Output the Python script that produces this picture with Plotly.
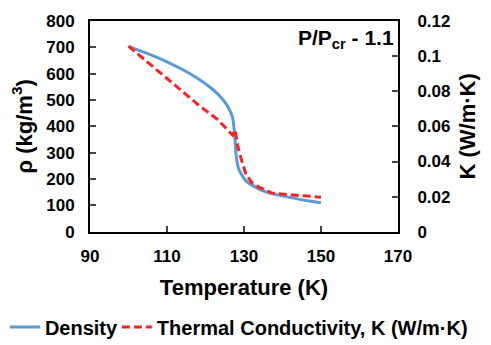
import plotly.graph_objects as go

temp_density = [100, 105, 110, 114.5, 118.4, 121.9, 124.5, 126.0, 127.0, 127.5, 127.9, 128.4, 128.8, 130.5, 132.2, 134.8, 138, 141.8, 146, 150]
density = [704, 676, 645, 612, 578, 540, 502, 470, 435, 380, 300, 250, 232, 193, 176, 156, 142, 131, 119, 110]

temp_k = [100, 105, 110, 114.5, 118.4, 123.1, 127.0, 127.7, 128.3, 129.2, 130.5, 132, 134, 137.4, 143.5, 150]
cond_k = [0.1057, 0.0965, 0.0875, 0.0790, 0.0718, 0.0640, 0.0551, 0.0579, 0.0495, 0.0420, 0.0328, 0.0280, 0.0253, 0.0219, 0.0207, 0.0197]

x_ticks = [90, 110, 130, 150, 170]
y_ticks = [0, 100, 200, 300, 400, 500, 600, 700, 800]
y2_ticks = [0, 0.02, 0.04, 0.06, 0.08, 0.1, 0.12]
y2_labels = ["0", "0.02", "0.04", "0.06", "0.08", "0.1", "0.12"]

FONT = "Liberation Sans, Arial, sans-serif"
tickfont = dict(family=FONT, size=17, color="black", weight="bold")
legfont = dict(family=FONT, size=20, color="black", weight="bold")

fig = go.Figure()
fig.add_trace(go.Scatter(x=temp_density, y=density, mode="lines", name="Density",
                         legend="legend",
                         line=dict(color="#5B9BD5", width=3, shape="spline", smoothing=0.6)))
fig.add_trace(go.Scatter(x=temp_k, y=cond_k, mode="lines", name="Thermal Conductivity, K (W/m·K)",
                         yaxis="y2", legend="legend2",
                         line=dict(color="#FF2020", width=3, dash="8px,4px")))

fig.update_layout(
    width=491, height=345,
    margin=dict(l=90, r=93, t=17, b=113),
    paper_bgcolor="white", plot_bgcolor="white",
    font=dict(family=FONT, size=17, color="black", weight="bold"),
    showlegend=True,
    legend=dict(orientation="h", xref="container", yref="container",
                x=0.01, xanchor="left", y=0.052, yanchor="middle",
                font=legfont, itemwidth=30, bgcolor="rgba(0,0,0,0)"),
    legend2=dict(orientation="h", xref="container", yref="container",
                 x=0.238, xanchor="left", y=0.052, yanchor="middle",
                 font=legfont, itemwidth=30, bgcolor="rgba(0,0,0,0)"),
    xaxis=dict(range=[90, 170], tickvals=x_ticks, ticks="inside", ticklen=6, tickwidth=2,
               showline=True, linewidth=2, linecolor="black", mirror=True, automargin=True,
               showgrid=False, zeroline=False, tickfont=tickfont, ticklabelstandoff=8,
               title=dict(text="Temperature (K)", font=dict(family=FONT, size=22, weight="bold"), standoff=14)),
    yaxis=dict(range=[0, 800], tickvals=y_ticks, ticks="inside", ticklen=6, tickwidth=2,
               showline=True, linewidth=2, linecolor="black", automargin=True,
               showgrid=False, zeroline=False, tickfont=tickfont, ticklabelstandoff=10,
               title=dict(text="ρ (kg/m<sup>3</sup>)", font=dict(family=FONT, size=22, weight="bold"), standoff=8)),
    yaxis2=dict(range=[0, 0.12], tickvals=y2_ticks, ticktext=y2_labels,
                overlaying="y", side="right", ticks="inside", ticklen=6, tickwidth=2,
                showline=True, linewidth=2, linecolor="black", automargin=True,
                showgrid=False, zeroline=False, tickfont=tickfont, ticklabelstandoff=14,
                title=dict(text="K (W/m·K)", font=dict(family=FONT, size=22, weight="bold"), standoff=10)),
)

fig.add_annotation(text="P/P<sub>cr</sub> - 1.1", xref="paper", yref="paper",
                   x=0.995, y=0.985, xanchor="right", yanchor="top", showarrow=False,
                   font=dict(family=FONT, size=21, color="black", weight="bold"))

fig.write_html("out.html")
